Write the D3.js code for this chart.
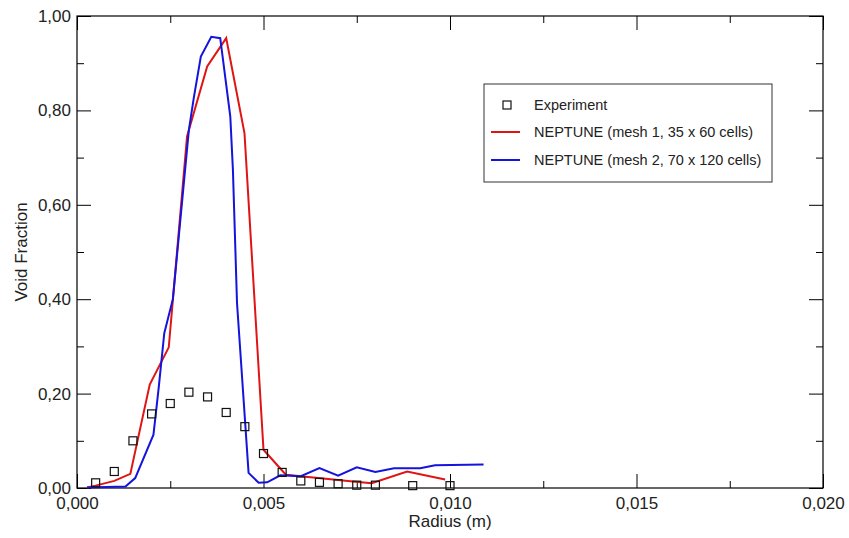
<!DOCTYPE html>
<html>
<head>
<meta charset="utf-8">
<script src="https://cdn.jsdelivr.net/npm/d3@7"></script>
<style>
  body { margin: 0; background: #fff; }
  text { font-family: "Liberation Sans", Arial, sans-serif; }
</style>
</head>
<body>
<div id="viz-container"></div>
<script>
// values
const experimentX = [0.0005, 0.001, 0.0015, 0.002, 0.0025, 0.003, 0.0035, 0.004, 0.0045, 0.005,
  0.0055, 0.006, 0.0065, 0.007, 0.0075, 0.008, 0.009, 0.010];
const experimentY = [0.011, 0.035, 0.100, 0.157, 0.179, 0.203, 0.193, 0.160, 0.130, 0.073,
  0.033, 0.015, 0.012, 0.009, 0.006, 0.006, 0.005, 0.005];

const mesh1X = [0.00027, 0.0005, 0.001, 0.00143, 0.00195, 0.00246, 0.00295, 0.00349, 0.0040,
  0.00449, 0.0050, 0.0056, 0.0074, 0.0079, 0.00885, 0.00987];
const mesh1Y = [0.001, 0.005, 0.015, 0.030, 0.219, 0.298, 0.745, 0.893, 0.953,
  0.752, 0.081, 0.028, 0.014, 0.010, 0.035, 0.018];

const mesh2X = [0.00027, 0.0013, 0.00156, 0.00205, 0.00219, 0.00234, 0.00257, 0.0030, 0.00313,
  0.00332, 0.0036, 0.00384, 0.00411, 0.00418, 0.00429, 0.0046, 0.00487, 0.0051, 0.00545,
  0.0060, 0.0065, 0.0070, 0.0075, 0.0080, 0.0085, 0.0092, 0.0096, 0.0109];
const mesh2Y = [0.001, 0.003, 0.021, 0.113, 0.212, 0.328, 0.400, 0.759, 0.826,
  0.914, 0.956, 0.953, 0.787, 0.674, 0.392, 0.032, 0.011, 0.012, 0.027,
  0.025, 0.042, 0.026, 0.044, 0.034, 0.042, 0.042, 0.048, 0.050];

const xTicks = [0, 0.005, 0.010, 0.015, 0.020];
const xMinor = [0.0025, 0.0075, 0.0125, 0.0175];
const yTicks = [0, 0.2, 0.4, 0.6, 0.8, 1.0];
const yMinor = [0.1, 0.3, 0.5, 0.7, 0.9];

const legendLabels = ['Experiment', 'NEPTUNE (mesh 1, 35 x 60 cells)', 'NEPTUNE (mesh 2, 70 x 120 cells)'];
const red = '#e01414';
const blue = '#1414dc';

const margin = {top: 16, right: 26, bottom: 50, left: 77};
const W = 849, H = 538;
const width = W - margin.left - margin.right;
const height = H - margin.top - margin.bottom;

const svg = d3.select('#viz-container')
  .append('svg')
  .attr('width', W)
  .attr('height', H)
  .append('g')
  .attr('transform', `translate(${margin.left},${margin.top})`);

const x = d3.scaleLinear().domain([0, 0.020]).range([0, width]);
const y = d3.scaleLinear().domain([0, 1]).range([height, 0]);

const commaFmt = f => v => d3.format(f)(v).replace('.', ',');

// bottom axis, ticks pointing inwards
const axBottom = svg.append('g')
  .attr('transform', `translate(0,${height})`)
  .call(d3.axisBottom(x).tickValues(xTicks).tickSize(-14).tickPadding(9).tickFormat(commaFmt('.3f')));
axBottom.append('g').call(d3.axisBottom(x).tickValues(xMinor).tickSize(-7).tickFormat(''));
// top axis
const axTop = svg.append('g')
  .call(d3.axisTop(x).tickValues(xTicks).tickSize(-14).tickFormat(''));
axTop.append('g').call(d3.axisTop(x).tickValues(xMinor).tickSize(-7).tickFormat(''));
// left axis
const axLeft = svg.append('g')
  .call(d3.axisLeft(y).tickValues(yTicks).tickSize(-14).tickPadding(6).tickFormat(commaFmt('.2f')));
axLeft.append('g').call(d3.axisLeft(y).tickValues(yMinor).tickSize(-7).tickFormat(''));
// right axis
const axRight = svg.append('g')
  .attr('transform', `translate(${width},0)`)
  .call(d3.axisRight(y).tickValues(yTicks).tickSize(-14).tickFormat(''));
axRight.append('g').call(d3.axisRight(y).tickValues(yMinor).tickSize(-7).tickFormat(''));

svg.selectAll('.domain').remove();
svg.selectAll('.tick line').attr('stroke', '#000');
svg.selectAll('.tick text').attr('fill', '#222').style('font-size', '17px');

svg.append('rect')
  .attr('width', width)
  .attr('height', height)
  .attr('fill', 'none')
  .attr('stroke', '#000')
  .attr('stroke-width', 1.2);

svg.append('text')
  .attr('x', x(0.010))
  .attr('y', height + 39)
  .style('text-anchor', 'middle')
  .style('font-size', '17px')
  .attr('fill', '#222')
  .text('Radius (m)');

svg.append('text')
  .attr('transform', `translate(${-50}, ${height / 2})rotate(-90)`)
  .style('text-anchor', 'middle')
  .style('font-size', '17px')
  .attr('fill', '#222')
  .text('Void Fraction');

const line = d3.line().x(d => x(d[0])).y(d => y(d[1]));

svg.append('path')
  .datum(d3.zip(mesh1X, mesh1Y))
  .attr('d', line)
  .attr('fill', 'none')
  .attr('stroke', red)
  .attr('stroke-width', 2);

svg.append('path')
  .datum(d3.zip(mesh2X, mesh2Y))
  .attr('d', line)
  .attr('fill', 'none')
  .attr('stroke', blue)
  .attr('stroke-width', 2);

const sq = 8;
svg.selectAll('rect.exp')
  .data(d3.zip(experimentX, experimentY))
  .join('rect')
  .attr('class', 'exp')
  .attr('x', d => x(d[0]) - sq / 2)
  .attr('y', d => y(d[1]) - sq / 2)
  .attr('width', sq)
  .attr('height', sq)
  .attr('fill', 'none')
  .attr('stroke', '#111')
  .attr('stroke-width', 1.2);

// legend
const lg = svg.append('g').attr('transform', `translate(${484 - margin.left},${84 - margin.top})`);
lg.append('rect')
  .attr('width', 288)
  .attr('height', 98)
  .attr('fill', '#fff')
  .attr('stroke', '#333')
  .attr('stroke-width', 1);
const rowY = [21, 48, 76];
lg.append('rect')
  .attr('x', 23 - 4).attr('y', rowY[0] - 4)
  .attr('width', 8).attr('height', 8)
  .attr('fill', 'none').attr('stroke', '#111').attr('stroke-width', 1.2);
lg.append('line').attr('x1', 7).attr('x2', 36).attr('y1', rowY[1]).attr('y2', rowY[1])
  .attr('stroke', red).attr('stroke-width', 2);
lg.append('line').attr('x1', 7).attr('x2', 36).attr('y1', rowY[2]).attr('y2', rowY[2])
  .attr('stroke', blue).attr('stroke-width', 2);
lg.selectAll('text.lab')
  .data(legendLabels)
  .join('text')
  .attr('class', 'lab')
  .attr('x', 50)
  .attr('y', (d, i) => rowY[i] + 5)
  .style('font-size', '14.5px')
  .attr('fill', '#222')
  .text(d => d);
</script>
</body>
</html>
